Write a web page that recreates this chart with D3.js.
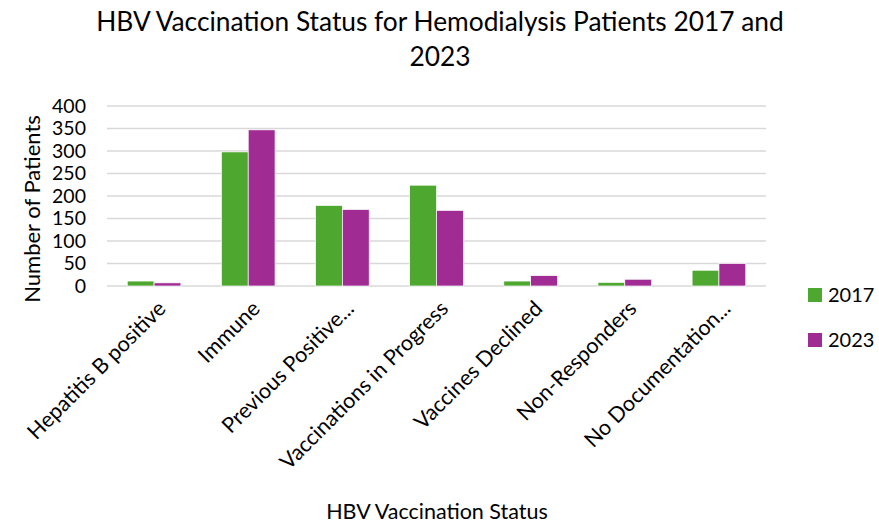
<!DOCTYPE html>
<html>
<head>
<meta charset="utf-8">
<script src="https://cdn.jsdelivr.net/npm/d3@7"></script>
<style>
  body { margin: 0; background: #fff; }
  text { font-family: Lato, "Open Sans", sans-serif; fill: #000; }
</style>
</head>
<body>
<div class="bigvis"></div>
<script>
var width = 879
var height = 524
var margin = {top: 106, right: 113, bottom: 238, left: 107}

var categories = ["Hepatitis B positive", "Immune", "Previous Positive...", "Vaccinations in Progress",
                  "Vaccines Declined", "Non-Responders", "No Documentation..."]
var series = ["2017", "2023"]
var values2017 = [11, 298, 179, 224, 11, 8, 35]
var values2023 = [7, 347, 170, 168, 23, 15, 50]
var yTicks = [0, 50, 100, 150, 200, 250, 300, 350, 400]
var colors = ["#4ea72e", "#a02b93"]

var svg = d3.select(".bigvis").append("svg")
    .attr("width", width)
    .attr("height", height)

var plotW = width - margin.left - margin.right
var plotH = height - margin.top - margin.bottom

var x0 = d3.scaleBand().domain(categories).range([0, plotW]).paddingInner(0.43).paddingOuter(0.215)
var x1 = d3.scaleBand().domain(series).range([0, x0.bandwidth()])
var y = d3.scaleLinear().domain([0, 400]).range([plotH, 0])

var g = svg.append("g").attr("transform", "translate(" + margin.left + "," + margin.top + ")")

// gridlines
g.selectAll("line.grid")
  .data(yTicks)
  .enter().append("line")
    .attr("class", "grid")
    .attr("x1", 0).attr("x2", plotW)
    .attr("y1", function(d){ return y(d) }).attr("y2", function(d){ return y(d) })
    .attr("stroke", "#d9d9d9")
    .attr("stroke-width", 1.5)

// y tick labels
g.selectAll("text.ytick")
  .data(yTicks)
  .enter().append("text")
    .attr("class", "ytick")
    .attr("x", -21)
    .attr("y", function(d){ return y(d) })
    .attr("dy", "0.35em")
    .attr("text-anchor", "end")
    .style("font-size", "19.5px")
    .text(function(d){ return d })

// bars
var rows = categories.map(function(c, i){
  return {cat: c, vals: [values2017[i], values2023[i]]}
})

var groups = g.selectAll("g.cat")
  .data(rows)
  .enter().append("g")
    .attr("class", "cat")
    .attr("transform", function(d){ return "translate(" + x0(d.cat) + ",0)" })

groups.selectAll("rect")
  .data(function(d){ return d.vals.map(function(v, i){ return {s: series[i], v: v, i: i} }) })
  .enter().append("rect")
    .attr("x", function(d){ return x1(d.s) })
    .attr("width", x1.bandwidth())
    .attr("y", function(d){ return y(d.v) })
    .attr("height", function(d){ return plotH - y(d.v) })
    .attr("fill", function(d){ return colors[d.i] })
    .attr("stroke", "#ffffff")
    .attr("stroke-width", 0.7)

// x labels, rotated
g.selectAll("text.xlabel")
  .data(categories)
  .enter().append("text")
    .attr("class", "xlabel")
    .attr("text-anchor", "end")
    .style("font-size", "21.5px")
    .attr("transform", function(d){
      var cx = x0(d) + x0.bandwidth() / 2 + 13
      return "translate(" + cx + "," + (plotH + 24) + ") rotate(-45)"
    })
    .text(function(d){ return d })

// title
svg.append("text")
    .attr("x", 440).attr("y", 31)
    .attr("text-anchor", "middle")
    .style("font-size", "26.3px")
    .text("HBV Vaccination Status for Hemodialysis Patients 2017 and")
svg.append("text")
    .attr("x", 440).attr("y", 66)
    .attr("text-anchor", "middle")
    .style("font-size", "26.3px")
    .text("2023")

// axis titles
svg.append("text")
    .attr("transform", "translate(40," + 209 + ") rotate(-90)")
    .attr("text-anchor", "middle")
    .style("font-size", "22px")
    .text("Number of Patients")

svg.append("text")
    .attr("x", 437).attr("y", 519)
    .attr("text-anchor", "middle")
    .style("font-size", "21.5px")
    .text("HBV Vaccination Status")

// legend
var legend = svg.selectAll("g.legend")
  .data(series)
  .enter().append("g")
    .attr("class", "legend")
    .attr("transform", function(d, i){ return "translate(808," + (295 + i * 45) + ")" })

legend.append("rect")
    .attr("x", 0).attr("y", -7)
    .attr("width", 14).attr("height", 14)
    .attr("fill", function(d, i){ return colors[i] })

legend.append("text")
    .attr("x", 20)
    .attr("dy", "0.35em")
    .style("font-size", "20px")
    .text(function(d){ return d })
</script>
</body>
</html>
